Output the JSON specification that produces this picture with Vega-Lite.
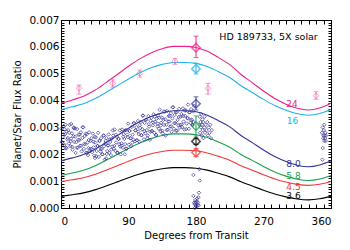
{
"$schema":"https://vega.github.io/schema/vega-lite/v6.json",
"width":270,"height":188,
"autosize":{"type":"none"},
"padding":{"left":61,"top":20,"right":19,"bottom":42},
"background":"white",
"config":{"view":{"stroke":"black","strokeWidth":1},"font":"DejaVu Sans","axis":{"grid":false,"domainColor":"black","tickColor":"black","labelColor":"black","titleColor":"black","labelFont":"DejaVu Sans","titleFont":"DejaVu Sans","labelFontSize":10.5,"titleFontSize":10,"titleFontWeight":"normal","labelOverlap":false,"labelBound":false}},
"datasets":{
"curves":[
{"c":"24","x":0,"y":0.00390},{"c":"24","x":15,"y":0.004022},{"c":"24","x":30,"y":0.004161},{"c":"24","x":45,"y":0.004381},{"c":"24","x":60,"y":0.004668},{"c":"24","x":75,"y":0.004969},{"c":"24","x":90,"y":0.005277},{"c":"24","x":105,"y":0.005552},{"c":"24","x":120,"y":0.005774},{"c":"24","x":135,"y":0.00593},{"c":"24","x":150,"y":0.006018},{"c":"24","x":165,"y":0.006018},{"c":"24","x":180,"y":0.005975},{"c":"24","x":195,"y":0.005832},{"c":"24","x":210,"y":0.0056},{"c":"24","x":225,"y":0.005337},{"c":"24","x":240,"y":0.004971},{"c":"24","x":255,"y":0.004668},{"c":"24","x":270,"y":0.004357},{"c":"24","x":285,"y":0.00408},{"c":"24","x":300,"y":0.003867},{"c":"24","x":315,"y":0.003712},{"c":"24","x":330,"y":0.003647},{"c":"24","x":345,"y":0.003724},{"c":"24","x":360,"y":0.0039},
{"c":"16","x":0,"y":0.003666},{"c":"16","x":15,"y":0.003767},{"c":"16","x":30,"y":0.003882},{"c":"16","x":45,"y":0.004064},{"c":"16","x":60,"y":0.004301},{"c":"16","x":75,"y":0.004551},{"c":"16","x":90,"y":0.004806},{"c":"16","x":105,"y":0.005034},{"c":"16","x":120,"y":0.005218},{"c":"16","x":135,"y":0.005347},{"c":"16","x":150,"y":0.00542},{"c":"16","x":165,"y":0.00542},{"c":"16","x":180,"y":0.005384},{"c":"16","x":195,"y":0.005266},{"c":"16","x":210,"y":0.005074},{"c":"16","x":225,"y":0.004856},{"c":"16","x":240,"y":0.004553},{"c":"16","x":255,"y":0.004301},{"c":"16","x":270,"y":0.004044},{"c":"16","x":285,"y":0.003814},{"c":"16","x":300,"y":0.003638},{"c":"16","x":315,"y":0.003509},{"c":"16","x":330,"y":0.003456},{"c":"16","x":345,"y":0.003519},{"c":"16","x":360,"y":0.003666},
{"c":"8.0","x":0,"y":0.001759},{"c":"8.0","x":15,"y":0.001866},{"c":"8.0","x":30,"y":0.001988},{"c":"8.0","x":45,"y":0.002181},{"c":"8.0","x":60,"y":0.002433},{"c":"8.0","x":75,"y":0.002698},{"c":"8.0","x":90,"y":0.002969},{"c":"8.0","x":105,"y":0.00321},{"c":"8.0","x":120,"y":0.003405},{"c":"8.0","x":135,"y":0.003542},{"c":"8.0","x":150,"y":0.00362},{"c":"8.0","x":165,"y":0.00362},{"c":"8.0","x":180,"y":0.003582},{"c":"8.0","x":195,"y":0.003456},{"c":"8.0","x":210,"y":0.003252},{"c":"8.0","x":225,"y":0.003021},{"c":"8.0","x":240,"y":0.0027},{"c":"8.0","x":255,"y":0.002433},{"c":"8.0","x":270,"y":0.00216},{"c":"8.0","x":285,"y":0.001916},{"c":"8.0","x":300,"y":0.00173},{"c":"8.0","x":315,"y":0.001593},{"c":"8.0","x":330,"y":0.001536},{"c":"8.0","x":345,"y":0.001604},{"c":"8.0","x":360,"y":0.001759},
{"c":"5.8","x":0,"y":0.001211},{"c":"5.8","x":15,"y":0.0013},{"c":"5.8","x":30,"y":0.001402},{"c":"5.8","x":45,"y":0.001563},{"c":"5.8","x":60,"y":0.001773},{"c":"5.8","x":75,"y":0.001993},{"c":"5.8","x":90,"y":0.002219},{"c":"5.8","x":105,"y":0.00242},{"c":"5.8","x":120,"y":0.002583},{"c":"5.8","x":135,"y":0.002697},{"c":"5.8","x":150,"y":0.002761},{"c":"5.8","x":165,"y":0.002761},{"c":"5.8","x":180,"y":0.00273},{"c":"5.8","x":195,"y":0.002625},{"c":"5.8","x":210,"y":0.002455},{"c":"5.8","x":225,"y":0.002263},{"c":"5.8","x":240,"y":0.001995},{"c":"5.8","x":255,"y":0.001773},{"c":"5.8","x":270,"y":0.001545},{"c":"5.8","x":285,"y":0.001342},{"c":"5.8","x":300,"y":0.001186},{"c":"5.8","x":315,"y":0.001073},{"c":"5.8","x":330,"y":0.001025},{"c":"5.8","x":345,"y":0.001081},{"c":"5.8","x":360,"y":0.001211},
{"c":"4.5","x":0,"y":0.000984},{"c":"4.5","x":15,"y":0.001051},{"c":"4.5","x":30,"y":0.001128},{"c":"4.5","x":45,"y":0.001249},{"c":"4.5","x":60,"y":0.001408},{"c":"4.5","x":75,"y":0.001574},{"c":"4.5","x":90,"y":0.001744},{"c":"4.5","x":105,"y":0.001896},{"c":"4.5","x":120,"y":0.002019},{"c":"4.5","x":135,"y":0.002105},{"c":"4.5","x":150,"y":0.002153},{"c":"4.5","x":165,"y":0.002153},{"c":"4.5","x":180,"y":0.00213},{"c":"4.5","x":195,"y":0.00205},{"c":"4.5","x":210,"y":0.001922},{"c":"4.5","x":225,"y":0.001777},{"c":"4.5","x":240,"y":0.001575},{"c":"4.5","x":255,"y":0.001408},{"c":"4.5","x":270,"y":0.001236},{"c":"4.5","x":285,"y":0.001083},{"c":"4.5","x":300,"y":0.000965},{"c":"4.5","x":315,"y":0.00088},{"c":"4.5","x":330,"y":0.000844},{"c":"4.5","x":345,"y":0.000886},{"c":"4.5","x":360,"y":0.000984},
{"c":"3.6","x":0,"y":0.000432},{"c":"3.6","x":15,"y":0.000494},{"c":"3.6","x":30,"y":0.000564},{"c":"3.6","x":45,"y":0.000675},{"c":"3.6","x":60,"y":0.00082},{"c":"3.6","x":75,"y":0.000973},{"c":"3.6","x":90,"y":0.001129},{"c":"3.6","x":105,"y":0.001268},{"c":"3.6","x":120,"y":0.001381},{"c":"3.6","x":135,"y":0.001459},{"c":"3.6","x":150,"y":0.001504},{"c":"3.6","x":165,"y":0.001504},{"c":"3.6","x":180,"y":0.001482},{"c":"3.6","x":195,"y":0.00141},{"c":"3.6","x":210,"y":0.001292},{"c":"3.6","x":225,"y":0.001159},{"c":"3.6","x":240,"y":0.000974},{"c":"3.6","x":255,"y":0.00082},{"c":"3.6","x":270,"y":0.000663},{"c":"3.6","x":285,"y":0.000523},{"c":"3.6","x":300,"y":0.000415},{"c":"3.6","x":315,"y":0.000336},{"c":"3.6","x":330,"y":0.000304},{"c":"3.6","x":345,"y":0.000342},{"c":"3.6","x":360,"y":0.000432}
],
"nav":[
{"x":0.5,"y":0.00295},{"x":1.5,"y":0.00245},{"x":2.5,"y":0.00265},{"x":3.5,"y":0.00305},{"x":4.5,"y":0.00235},{"x":5.5,"y":0.00275},{"x":6.5,"y":0.00225},{"x":7.5,"y":0.00285},{"x":8.5,"y":0.00255},{"x":9.5,"y":0.0029},
{"x":10.5,"y":0.0024},{"x":11.5,"y":0.0031},{"x":12.5,"y":0.0023},{"x":13.5,"y":0.00258},{"x":14.5,"y":0.00278},{"x":15.5,"y":0.00217},{"x":16.5,"y":0.00267},{"x":17.5,"y":0.00246},{"x":18.5,"y":0.00296},{"x":19.5,"y":0.00205},
{"x":20.5,"y":0.00245},{"x":21.5,"y":0.00294},{"x":22.5,"y":0.00224},{"x":23.5,"y":0.00273},{"x":24.5,"y":0.00253},{"x":25.5,"y":0.00232},{"x":26.5,"y":0.00282},{"x":27.5,"y":0.00211},{"x":28.5,"y":0.00261},{"x":29.5,"y":0.003},
{"x":30.5,"y":0.0022},{"x":31.5,"y":0.00268},{"x":32.5,"y":0.00237},{"x":33.5,"y":0.00206},{"x":34.5,"y":0.00275},{"x":35.5,"y":0.00244},{"x":36.5,"y":0.00223},{"x":37.5,"y":0.00282},{"x":38.5,"y":0.00211},{"x":39.5,"y":0.0025},
{"x":40.5,"y":0.0026},{"x":41.5,"y":0.00208},{"x":42.5,"y":0.00277},{"x":43.5,"y":0.00226},{"x":44.5,"y":0.00195},{"x":45.5,"y":0.00244},{"x":46.5,"y":0.00263},{"x":47.5,"y":0.00212},{"x":48.5,"y":0.00231},{"x":49.5,"y":0.0028},
{"x":50.5,"y":0.0019},{"x":51.5,"y":0.0025},{"x":52.5,"y":0.0021},{"x":53.5,"y":0.0026},{"x":54.5,"y":0.0022},{"x":55.5,"y":0.002},{"x":56.5,"y":0.0027},{"x":57.5,"y":0.0023},{"x":58.5,"y":0.0018},{"x":59.5,"y":0.0025},
{"x":60.5,"y":0.0026},{"x":61.5,"y":0.00212},{"x":62.5,"y":0.00233},{"x":63.5,"y":0.00274},{"x":64.5,"y":0.00205},{"x":65.5,"y":0.00246},{"x":66.5,"y":0.00197},{"x":67.5,"y":0.00258},{"x":68.5,"y":0.00229},{"x":69.5,"y":0.0027},
{"x":70.5,"y":0.0022},{"x":71.5,"y":0.00292},{"x":72.5,"y":0.00213},{"x":73.5,"y":0.00244},{"x":74.5,"y":0.00265},{"x":75.5,"y":0.00206},{"x":76.5,"y":0.00257},{"x":77.5,"y":0.00238},{"x":78.5,"y":0.00289},{"x":79.5,"y":0.002},
{"x":80.5,"y":0.00241},{"x":81.5,"y":0.00292},{"x":82.5,"y":0.00224},{"x":83.5,"y":0.00275},{"x":84.5,"y":0.00257},{"x":85.5,"y":0.00238},{"x":86.5,"y":0.0029},{"x":87.5,"y":0.00221},{"x":88.5,"y":0.00273},{"x":89.5,"y":0.00314},
{"x":90.5,"y":0.00236},{"x":91.5,"y":0.00287},{"x":92.5,"y":0.00259},{"x":93.5,"y":0.0023},{"x":94.5,"y":0.00302},{"x":95.5,"y":0.00273},{"x":96.5,"y":0.00255},{"x":97.5,"y":0.00316},{"x":98.5,"y":0.00248},{"x":99.5,"y":0.00289},
{"x":100.5,"y":0.00301},{"x":101.5,"y":0.00252},{"x":102.5,"y":0.00324},{"x":103.5,"y":0.00275},{"x":104.5,"y":0.00247},{"x":105.5,"y":0.00298},{"x":106.5,"y":0.0032},{"x":107.5,"y":0.00271},{"x":108.5,"y":0.00293},{"x":109.5,"y":0.00344},
{"x":110.5,"y":0.00256},{"x":111.5,"y":0.00317},{"x":112.5,"y":0.00278},{"x":113.5,"y":0.00329},{"x":114.5,"y":0.0029},{"x":115.5,"y":0.0027},{"x":116.5,"y":0.00342},{"x":117.5,"y":0.00303},{"x":118.5,"y":0.00254},{"x":119.5,"y":0.00325},
{"x":120.5,"y":0.00336},{"x":121.5,"y":0.00287},{"x":122.5,"y":0.00308},{"x":123.5,"y":0.00349},{"x":124.5,"y":0.0028},{"x":125.5,"y":0.00321},{"x":126.5,"y":0.00272},{"x":127.5,"y":0.00333},{"x":128.5,"y":0.00304},{"x":129.5,"y":0.00345},
{"x":130.5,"y":0.00295},{"x":131.5,"y":0.00366},{"x":132.5,"y":0.00286},{"x":133.5,"y":0.00317},{"x":134.5,"y":0.00337},{"x":135.5,"y":0.00278},{"x":136.5,"y":0.00328},{"x":137.5,"y":0.00309},{"x":138.5,"y":0.00359},{"x":139.5,"y":0.0027},
{"x":140.5,"y":0.0031},{"x":141.5,"y":0.00361},{"x":142.5,"y":0.00291},{"x":143.5,"y":0.00342},{"x":144.5,"y":0.00322},{"x":145.5,"y":0.00303},{"x":146.5,"y":0.00353},{"x":147.5,"y":0.00284},{"x":148.5,"y":0.00334},{"x":149.5,"y":0.00375},
{"x":150.5,"y":0.00295},{"x":151.5,"y":0.00346},{"x":152.5,"y":0.00316},{"x":153.5,"y":0.00287},{"x":154.5,"y":0.00357},{"x":155.5,"y":0.00328},{"x":156.5,"y":0.00308},{"x":157.5,"y":0.00369},{"x":158.5,"y":0.00299},{"x":159.5,"y":0.0034},
{"x":160.5,"y":0.0035},{"x":161.5,"y":0.00301},{"x":162.5,"y":0.00371},{"x":163.5,"y":0.00322},{"x":164.5,"y":0.00292},{"x":165.5,"y":0.00343},{"x":166.5,"y":0.00363},{"x":167.5,"y":0.00314},{"x":168.5,"y":0.00334},{"x":169.5,"y":0.00385},
{"x":170.5,"y":0.00295},{"x":171.5,"y":0.00356},{"x":172.5,"y":0.00317},{"x":173.5,"y":0.00368},{"x":174.5,"y":0.00329},{"x":175.5,"y":0.00309},
{"x":1,"y":0.00245},{"x":3,"y":0.00274},{"x":5,"y":0.00293},{"x":7,"y":0.00222},{"x":9,"y":0.00261},{"x":11,"y":0.0028},{"x":13,"y":0.00249},{"x":15,"y":0.00228},{"x":17,"y":0.00297},{"x":19,"y":0.00266},
{"x":21,"y":0.00225},{"x":23,"y":0.00254},{"x":25,"y":0.00273},{"x":27,"y":0.00232},{"x":29,"y":0.00301},{"x":31,"y":0.00239},{"x":33,"y":0.00277},{"x":35,"y":0.00205},{"x":37,"y":0.00253},{"x":39,"y":0.00221},
{"x":41,"y":0.00219},{"x":43,"y":0.00247},{"x":45,"y":0.00265},{"x":47,"y":0.00193},{"x":49,"y":0.00231},{"x":51,"y":0.0025},{"x":53,"y":0.0022},{"x":55,"y":0.002},{"x":57,"y":0.0027},{"x":59,"y":0.0024},
{"x":61,"y":0.00201},{"x":63,"y":0.00233},{"x":65,"y":0.00255},{"x":67,"y":0.00217},{"x":69,"y":0.00289},{"x":71,"y":0.00231},{"x":73,"y":0.00273},{"x":75,"y":0.00205},{"x":77,"y":0.00257},{"x":79,"y":0.00229},
{"x":81,"y":0.00232},{"x":83,"y":0.00265},{"x":85,"y":0.00288},{"x":87,"y":0.00221},{"x":89,"y":0.00264},{"x":91,"y":0.00287},{"x":93,"y":0.0026},{"x":95,"y":0.00243},{"x":97,"y":0.00316},{"x":99,"y":0.00289},
{"x":101,"y":0.00252},{"x":103,"y":0.00285},{"x":105,"y":0.00308},{"x":107,"y":0.00271},{"x":109,"y":0.00344},{"x":111,"y":0.00286},{"x":113,"y":0.00328},{"x":115,"y":0.0026},{"x":117,"y":0.00312},{"x":119,"y":0.00284},
{"x":121,"y":0.00286},{"x":123,"y":0.00318},{"x":125,"y":0.0034},{"x":127,"y":0.00272},{"x":129,"y":0.00314},{"x":131,"y":0.00336},{"x":133,"y":0.00307},{"x":135,"y":0.00288},{"x":137,"y":0.00359},{"x":139,"y":0.0033},
{"x":141,"y":0.00291},{"x":143,"y":0.00322},{"x":145,"y":0.00343},{"x":147,"y":0.00304},{"x":149,"y":0.00375},{"x":151,"y":0.00316},{"x":153,"y":0.00357},{"x":155,"y":0.00288},{"x":157,"y":0.00339},{"x":159,"y":0.0031},
{"x":161,"y":0.00311},{"x":163,"y":0.00342},{"x":165,"y":0.00363},{"x":167,"y":0.00294},{"x":169,"y":0.00335},{"x":171,"y":0.00356},{"x":173,"y":0.00327},{"x":175,"y":0.00309},
{"x":13.7,"y":0.00313},{"x":17.2,"y":0.0030},{"x":6,"y":0.0031},{"x":36,"y":0.00197},{"x":45.3,"y":0.00186},{"x":85,"y":0.002},{"x":60,"y":0.00185},
{"x":176.5,"y":0.0036},{"x":177,"y":0.0032},{"x":177.5,"y":0.0038},
{"x":184.5,"y":0.0031},{"x":185,"y":0.0034},{"x":185.5,"y":0.0028},{"x":186,"y":0.0032},{"x":186.5,"y":0.003},{"x":187,"y":0.0035},{"x":187.5,"y":0.0027},{"x":188,"y":0.0031},{"x":188.5,"y":0.0033},{"x":189,"y":0.0029},{"x":189.5,"y":0.0032},{"x":190,"y":0.0026},{"x":191,"y":0.003},{"x":191.5,"y":0.0034},{"x":192,"y":0.0028},{"x":193,"y":0.0031},{"x":194,"y":0.0029},{"x":195,"y":0.0032},{"x":196,"y":0.0027},{"x":197,"y":0.003},{"x":198,"y":0.0028},{"x":199,"y":0.0031},{"x":200,"y":0.0026},{"x":201,"y":0.0029},
{"x":176.5,"y":0.00123},{"x":184.5,"y":0.00145},{"x":185,"y":0.00102},{"x":176.5,"y":0.00045},{"x":184,"y":0.00057},{"x":179,"y":0.0003},{"x":180,"y":0.0002},{"x":181,"y":0.00025},{"x":182,"y":0.0001},{"x":178,"y":0.00015},{"x":180.5,"y":0.00005},{"x":179.5,"y":0.0001},{"x":181.5,"y":0.00035},{"x":183,"y":0.0004},{"x":182.5,"y":0.0002},{"x":178.5,"y":0.0},{"x":183.5,"y":0.0001},{"x":177.5,"y":0.0002},
{"x":348,"y":0.0028},{"x":349,"y":0.003},{"x":349.5,"y":0.0026},{"x":350,"y":0.0027},{"x":350.5,"y":0.0029},{"x":351,"y":0.0025},{"x":351.5,"y":0.0027},{"x":352,"y":0.0026},{"x":352.5,"y":0.0028},{"x":353,"y":0.0025},{"x":349,"y":0.00223},{"x":348.5,"y":0.0018},{"x":353.5,"y":0.0027},{"x":351,"y":0.0031}
],
"pink":[
{"x":24,"y":0.00446,"lo":0.00424,"hi":0.00458},{"x":69,"y":0.00464,"lo":0.0045,"hi":0.00477},{"x":105,"y":0.00501,"lo":0.00487,"hi":0.00514},{"x":152,"y":0.00547,"lo":0.00535,"hi":0.00557},{"x":196,"y":0.00446,"lo":0.00424,"hi":0.00464},{"x":340,"y":0.00418,"lo":0.00405,"hi":0.00433}
],
"big":[
{"c":"24","x":180,"y":0.00597,"lo":0.0056,"hi":0.0064},{"c":"16","x":180,"y":0.00518,"lo":0.00499,"hi":0.00539},{"c":"8.0","x":180,"y":0.00388,"lo":0.00365,"hi":0.00414},{"c":"5.8","x":180,"y":0.00305,"lo":0.00268,"hi":0.00343},{"c":"3.6","x":180,"y":0.00248,"lo":0.00237,"hi":0.0026},{"c":"4.5","x":180,"y":0.00207,"lo":0.00191,"hi":0.00222}
],
"lab":[
{"c":"24","t":"24","x":308,"y":0.00387},{"c":"16","t":"16","x":308.7,"y":0.00324},{"c":"8.0","t":"8.0","x":310,"y":0.00164},{"c":"5.8","t":"5.8","x":310,"y":0.0012},{"c":"4.5","t":"4.5","x":310,"y":0.00078},{"c":"3.6","t":"3.6","x":310,"y":0.00043}
]
},
"layer":[
{"data":{"name":"curves"},"mark":{"type":"line","interpolate":"monotone","strokeWidth":1.1},
"encoding":{
"x":{"field":"x","type":"quantitative","scale":{"domain":[0,360],"nice":false,"zero":false},
"axis":{"orient":"bottom","values":[0,10,20,30,40,50,60,70,80,90,100,110,120,130,140,150,160,170,180,190,200,210,220,230,240,250,260,270,280,290,300,310,320,330,340,350,360],"format":"d","labelExpr":"datum.value % 90 === 0 ? datum.label : ''","tickSize":-4,"labelPadding":12,"title":"Degrees from Transit","titlePadding":4,"encode":{"ticks":{"update":{"y2":{"signal":"datum.value % 90 === 0 ? -8 : -4"}}}}}},
"y":{"field":"y","type":"quantitative","scale":{"domain":[0,0.007],"nice":false},
"axis":{"orient":"left","values":[0,0.0001,0.0002,0.0003,0.0004,0.0005,0.0006,0.0007,0.0008,0.0009,0.001,0.0011,0.0012,0.0013,0.0014,0.0015,0.0016,0.0017,0.0018,0.0019,0.002,0.0021,0.0022,0.0023,0.0024,0.0025,0.0026,0.0027,0.0028,0.0029,0.003,0.0031,0.0032,0.0033,0.0034,0.0035,0.0036,0.0037,0.0038,0.0039,0.004,0.0041,0.0042,0.0043,0.0044,0.0045,0.0046,0.0047,0.0048,0.0049,0.005,0.0051,0.0052,0.0053,0.0054,0.0055,0.0056,0.0057,0.0058,0.0059,0.006,0.0061,0.0062,0.0063,0.0064,0.0065,0.0066,0.0067,0.0068,0.0069,0.007],"labelExpr":"abs(datum.value*1000-round(datum.value*1000)) < 0.01 ? format(datum.value, '.3f') : ''","tickSize":-3,"labelPadding":5,"title":"Planet/Star Flux Ratio","titlePadding":6,"encode":{"ticks":{"update":{"x2":{"signal":"abs(datum.value*1000-round(datum.value*1000)) < 0.01 ? 7 : 3"}}}}}},
"color":{"field":"c","type":"nominal","scale":{"domain":["24","16","8.0","5.8","4.5","3.6"],"range":["#ee1f88","#1fb2ef","#34349a","#18a04a","#f03838","#000000"]},"legend":null}
}},
{"data":{"name":"nav"},"mark":{"type":"point","shape":"diamond","filled":false,"size":12,"strokeWidth":1,"color":"#2e2e94"},
"encoding":{
"x":{"field":"x","type":"quantitative","axis":{"orient":"top","values":[0,10,20,30,40,50,60,70,80,90,100,110,120,130,140,150,160,170,180,190,200,210,220,230,240,250,260,270,280,290,300,310,320,330,340,350,360],"labels":false,"title":null,"tickSize":-4,"encode":{"ticks":{"update":{"y2":{"signal":"datum.value % 90 === 0 ? 8 : 4"}}}}}},
"y":{"field":"y","type":"quantitative","axis":{"orient":"right","values":[0,0.0001,0.0002,0.0003,0.0004,0.0005,0.0006,0.0007,0.0008,0.0009,0.001,0.0011,0.0012,0.0013,0.0014,0.0015,0.0016,0.0017,0.0018,0.0019,0.002,0.0021,0.0022,0.0023,0.0024,0.0025,0.0026,0.0027,0.0028,0.0029,0.003,0.0031,0.0032,0.0033,0.0034,0.0035,0.0036,0.0037,0.0038,0.0039,0.004,0.0041,0.0042,0.0043,0.0044,0.0045,0.0046,0.0047,0.0048,0.0049,0.005,0.0051,0.0052,0.0053,0.0054,0.0055,0.0056,0.0057,0.0058,0.0059,0.006,0.0061,0.0062,0.0063,0.0064,0.0065,0.0066,0.0067,0.0068,0.0069,0.007],"labels":false,"title":null,"tickSize":-3,"encode":{"ticks":{"update":{"x2":{"signal":"abs(datum.value*1000-round(datum.value*1000)) < 0.01 ? -7 : -3"}}}}}}
}},
{"data":{"name":"pink"},"mark":{"type":"errorbar","ticks":true,"color":"#f472b6"},
"encoding":{"x":{"field":"x","type":"quantitative","axis":null},"y":{"field":"lo","type":"quantitative","axis":null},"y2":{"field":"hi"}}},
{"data":{"name":"pink"},"mark":{"type":"point","shape":"diamond","filled":false,"size":34,"strokeWidth":1,"color":"#f472b6"},
"encoding":{"x":{"field":"x","type":"quantitative","axis":null},"y":{"field":"y","type":"quantitative","axis":null}}},
{"data":{"name":"big"},"mark":{"type":"errorbar","ticks":true},
"encoding":{"x":{"field":"x","type":"quantitative","axis":null},"y":{"field":"lo","type":"quantitative","axis":null},"y2":{"field":"hi"},"color":{"field":"c","type":"nominal","legend":null}}},
{"data":{"name":"big"},"mark":{"type":"point","shape":"diamond","filled":false,"size":72,"strokeWidth":1.5},
"encoding":{"x":{"field":"x","type":"quantitative","axis":null},"y":{"field":"y","type":"quantitative","axis":null},"color":{"field":"c","type":"nominal","legend":null}}},
{"data":{"name":"lab"},"mark":{"type":"text","fontSize":9,"font":"DejaVu Sans","align":"center","baseline":"middle"},
"encoding":{"x":{"field":"x","type":"quantitative","axis":null},"y":{"field":"y","type":"quantitative","axis":null},"text":{"field":"t"},"color":{"field":"c","type":"nominal","legend":null}}},
{"data":{"values":[{"x":276.7,"y":0.00635,"t":"HD 189733, 5X solar"}]},"mark":{"type":"text","fontSize":9.5,"font":"DejaVu Sans","align":"center","baseline":"middle","color":"black"},
"encoding":{"x":{"field":"x","type":"quantitative","axis":null},"y":{"field":"y","type":"quantitative","axis":null},"text":{"field":"t"}}}
],
"resolve":{"axis":{"x":"independent","y":"independent"}}
}
